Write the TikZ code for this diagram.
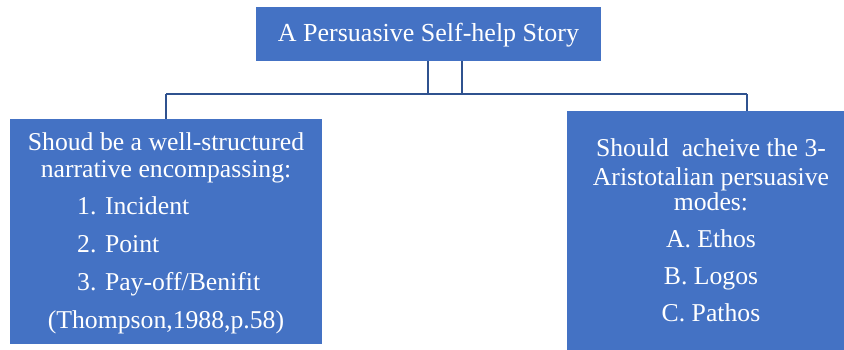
\documentclass[tikz,border=0pt]{standalone}
\usepackage{fontspec}
\setmainfont{Liberation Serif}
\definecolor{boxblue}{HTML}{4472C4}
\definecolor{lineblue}{HTML}{2F528F}
\begin{document}
\begin{tikzpicture}[x=1pt,y=-1pt,
  box/.style={fill=boxblue, draw=none, inner sep=0pt, outer sep=0pt, anchor=north west},
  txt/.style={text=white, font=\rmfamily\fontsize{25.7}{28}\selectfont, inner sep=0pt, anchor=base},
  txtl/.style={txt, anchor=base west},
  conn/.style={draw=lineblue, line width=2pt}]
\useasboundingbox (0,0) rectangle (844,349);
% boxes
\node[box, minimum width=345pt, minimum height=54pt] (top) at (256,7) {};
\node[box, minimum width=312pt, minimum height=225pt] (left) at (10,119) {};
\node[box, minimum width=290pt, minimum height=240pt] (right) at (567,111) {};
% texts
\node[txt, font=\rmfamily\fontsize{26}{28}\selectfont] (ttop) at (428.5,41.7) {A Persuasive Self-help Story};
\node[txt] (l1) at (166,150.7) {Shoud be a well-structured};
\node[txt] (l2) at (166,177) {narrative encompassing:};
\node[txtl] (l3) at (77,214) {1. Incident};
\node[txtl] (l4) at (77,252) {2. Point};
\node[txtl] (l5) at (77,290) {3. Pay-off/Benifit};
\node[txt] (l6) at (166,328) {(Thompson,1988,p.58)};
\node[txt] (r1) at (711,156.7) {Should\ \ acheive the 3-};
\node[txt] (r2) at (711,185) {Aristotalian persuasive};
\node[txt] (r3) at (711,210.7) {modes:};
\node[txt] (r4) at (711,247) {A. Ethos};
\node[txt] (r5) at (711,284) {B. Logos};
\node[txt] (r6) at (711,321.7) {C. Pathos};
% connectors
\coordinate (ja) at (428.3,94);
\coordinate (jb) at (461.7,94);
\coordinate (jl) at (166,94);
\coordinate (jr) at (747,94);
\draw[conn] (top.south -| ja) -- (ja);
\draw[conn] (top.south -| jb) -- (jb);
\draw[conn] (jl) -- (jr);
\draw[conn] (jl) -- (left.north -| jl);
\draw[conn] (jr) -- (right.north -| jr);
\end{tikzpicture}
\end{document}
